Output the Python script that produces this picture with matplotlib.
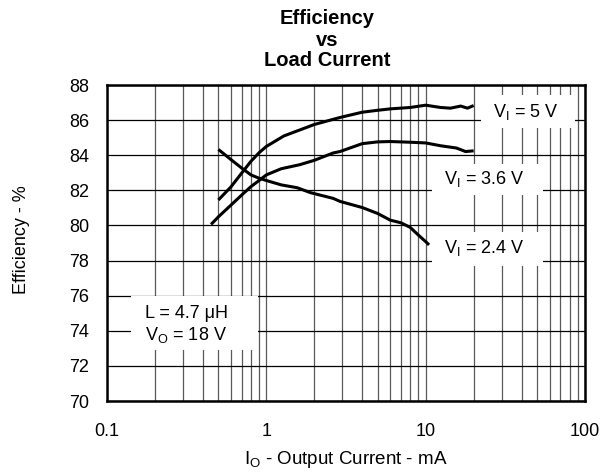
import matplotlib
matplotlib.use("Agg")
import matplotlib.pyplot as plt
from matplotlib.patches import Rectangle
from matplotlib.ticker import LogLocator, NullFormatter, FixedLocator, FixedFormatter

plt.rcParams['font.family'] = ['Liberation Sans', 'DejaVu Sans']
plt.rcParams['mathtext.fontset'] = 'custom'
plt.rcParams['mathtext.rm'] = 'Liberation Sans'
plt.rcParams['mathtext.it'] = 'Liberation Sans'

# Data
i_5v = [0.5, 0.6, 0.7, 0.8, 0.9, 1.0, 1.29, 2.0, 2.9, 4, 5, 6, 8, 10, 12.4, 14.3, 16.6, 18.3, 20]
e_5v = [81.45, 82.2, 82.98, 83.65, 84.14, 84.5, 85.1, 85.75, 86.15, 86.45, 86.56, 86.64,
        86.72, 86.85, 86.72, 86.68, 86.8, 86.68, 86.83]

i_36v = [0.45, 0.5, 0.6, 0.7, 0.8, 0.9, 1.0, 1.24, 1.62, 2.0, 2.63, 2.9, 4, 5, 6, 8, 10,
         12.4, 15.6, 17.8, 20]
e_36v = [80.06, 80.49, 81.16, 81.73, 82.21, 82.56, 82.88, 83.23, 83.46, 83.71, 84.13, 84.21,
         84.66, 84.76, 84.78, 84.74, 84.7, 84.54, 84.41, 84.21, 84.25]

i_24v = [0.5, 0.6, 0.7, 0.8, 0.9, 1.0, 1.24, 1.56, 1.89, 2.63, 2.9, 4, 5, 6, 7, 8, 9, 10, 10.5]
e_24v = [84.33, 83.75, 83.27, 82.88, 82.69, 82.56, 82.31, 82.15, 81.87, 81.54, 81.37, 81.02,
         80.68, 80.3, 80.15, 79.89, 79.45, 79.08, 78.89]

x_ticks = [0.1, 1, 10, 100]
x_tick_labels = ['0.1', '1', '10', '100']
y_ticks = [70, 72, 74, 76, 78, 80, 82, 84, 86, 88]

W, H = 603, 476
fig = plt.figure(figsize=(W / 100, H / 100), dpi=100)
L, R, T, B = 107, 585, 85, 401
ax = fig.add_axes([L / W, 1 - B / H, (R - L) / W, (B - T) / H])

ax.set_xscale('log')
ax.set_xlim(0.1, 100)
ax.set_ylim(70, 88)

ax.xaxis.set_major_locator(FixedLocator(x_ticks))
ax.xaxis.set_major_formatter(FixedFormatter(x_tick_labels))
ax.xaxis.set_minor_locator(LogLocator(base=10, subs=range(2, 10)))
ax.xaxis.set_minor_formatter(NullFormatter())
ax.set_yticks(y_ticks)
ax.set_yticklabels([str(v) for v in y_ticks])

ax.tick_params(which='both', length=0)
ax.tick_params(axis='x', pad=16, labelsize=13)
ax.tick_params(axis='y', pad=13, labelsize=13)

ax.set_axisbelow(True)
ax.grid(True, axis='x', which='both', color='0.35', linewidth=0.9)
ax.grid(True, axis='y', which='major', color='black', linewidth=0.9)

for s in ax.spines.values():
    s.set_linewidth(1.8)
    s.set_color('black')

lw = 2.2
for xs, ys in ((i_5v, e_5v), (i_36v, e_36v), (i_24v, e_24v)):
    ax.plot(xs, ys, color='black', lw=lw, solid_capstyle='butt', zorder=4)


def px_box(x0, x1, y0, y1):
    """White label background given in figure pixels, converted to axes fraction."""
    ax.add_patch(Rectangle(((x0 - L) / (R - L), (B - y1) / (B - T)),
                           (x1 - x0) / (R - L), (y1 - y0) / (B - T),
                           transform=ax.transAxes, facecolor='white', edgecolor='none',
                           zorder=2.5))


px_box(481, 575, 95, 128)
px_box(432, 543, 164, 195)
px_box(432, 543, 232, 266)
px_box(131, 258, 296, 350)

fs = 13
ax.text((526 - L) / (R - L), (B - 112) / (B - T), r'V$_\mathregular{I}$ = 5 V',
        transform=ax.transAxes, fontsize=fs, ha='center', va='center', zorder=3)
ax.text((484 - L) / (R - L), (B - 179) / (B - T), r'V$_\mathregular{I}$ = 3.6 V',
        transform=ax.transAxes, fontsize=fs, ha='center', va='center', zorder=3)
ax.text((484 - L) / (R - L), (B - 248) / (B - T), r'V$_\mathregular{I}$ = 2.4 V',
        transform=ax.transAxes, fontsize=fs, ha='center', va='center', zorder=3)
ax.text((145 - L) / (R - L), (B - 313) / (B - T), 'L = 4.7 μH',
        transform=ax.transAxes, fontsize=fs, ha='left', va='center', zorder=3)
ax.text((145 - L) / (R - L), (B - 335) / (B - T), r'V$_\mathregular{O}$ = 18 V',
        transform=ax.transAxes, fontsize=fs, ha='left', va='center', zorder=3)

tfs = 14.5
fig.text(327 / W, 1 - 19 / H, 'Efficiency', ha='center', va='center', fontsize=tfs, fontweight='bold')
fig.text(327 / W, 1 - 40 / H, 'vs', ha='center', va='center', fontsize=tfs, fontweight='bold')
fig.text(327 / W, 1 - 61 / H, 'Load Current', ha='center', va='center', fontsize=tfs, fontweight='bold')

fig.text(22 / W, 1 - 240 / H, 'Efficiency - %', rotation=90, ha='center', va='center', fontsize=13)
fig.text(346 / W, 1 - 460 / H, r'I$_\mathregular{O}$ - Output Current - mA', ha='center', va='center',
         fontsize=13.5)

fig.savefig('out.png', dpi=100, facecolor='white')
